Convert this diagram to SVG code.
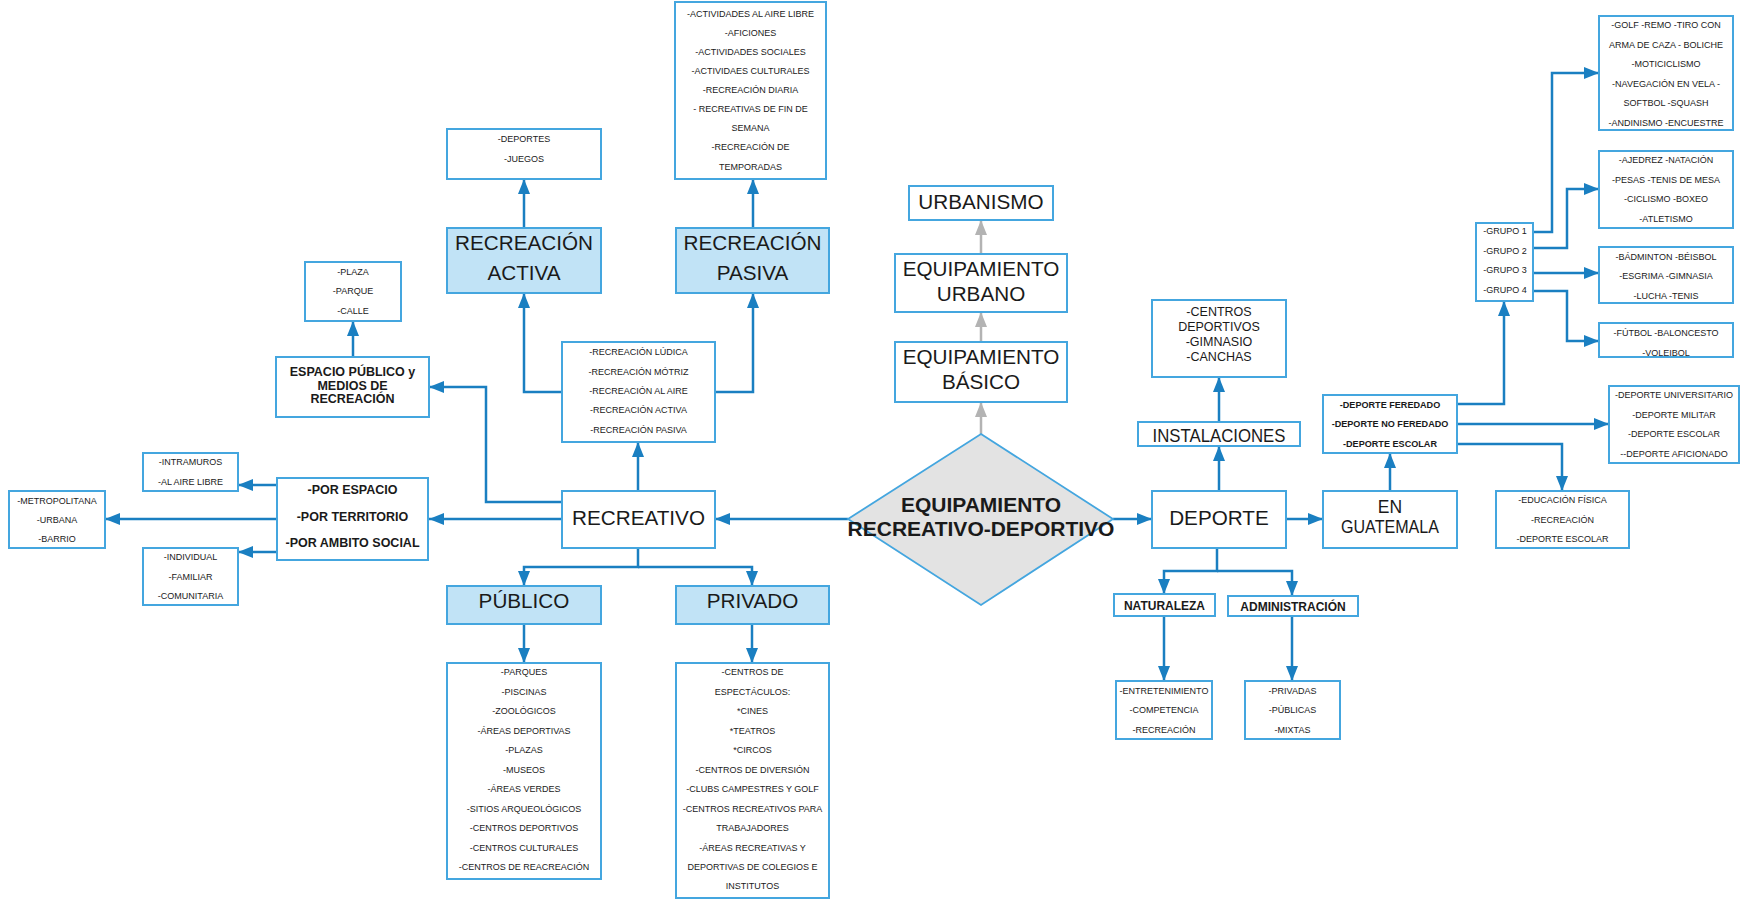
<svg xmlns="http://www.w3.org/2000/svg" width="1740" height="899" viewBox="0 0 1740 899">
<defs>
<style>
.box{fill:#ffffff;stroke:#44a6df;stroke-width:2}
.hl{fill:#c1e3f6}
.dia{fill:#e3e3e3;stroke:#44a6df;stroke-width:1.8}
.c{fill:none;stroke:#1a7fc1;stroke-width:2.5;marker-end:url(#ah)}
.cn{fill:none;stroke:#1a7fc1;stroke-width:2.5}
.g{fill:none;stroke:#b3b3b3;stroke-width:2.5;marker-end:url(#ahg)}
text{font-family:"Liberation Sans",Arial,sans-serif;fill:#1a1a1a;text-anchor:middle}
.s{font-size:9px}
.sb{font-size:9.1px;font-weight:bold}
.m{font-size:12.5px;font-weight:bold}
.L{font-size:20.7px}
.Lb{font-size:21px;font-weight:bold}
</style>
<marker id="ah" markerUnits="userSpaceOnUse" markerWidth="15" markerHeight="12" refX="15" refY="6" orient="auto"><path d="M0,0 L15,6 L0,12 z" fill="#1a7fc1"/></marker>
<marker id="ahg" markerUnits="userSpaceOnUse" markerWidth="15" markerHeight="12" refX="15" refY="6" orient="auto"><path d="M0,0 L15,6 L0,12 z" fill="#b3b3b3"/></marker>
</defs>

<g id="connectors">
<path class="c" d="M848,519 H715"/>
<path class="c" d="M562,519 H429"/>
<path class="c" d="M277,485 H238"/>
<path class="c" d="M277,519 H105"/>
<path class="c" d="M277,552 H238"/>
<path class="c" d="M562,502 H486 V387 H429"/>
<path class="c" d="M353,357 V321"/>
<path class="c" d="M638,491 V442"/>
<path class="c" d="M562,392 H524 V293"/>
<path class="c" d="M715,392 H753 V293"/>
<path class="c" d="M524,228 V179"/>
<path class="c" d="M753,228 V179"/>
<path class="c" d="M638,548 V567 H524 V586"/>
<path class="c" d="M638,567 H752 V586"/>
<path class="c" d="M524,624 V663"/>
<path class="c" d="M752,624 V663"/>
<path class="g" d="M981,434 V402"/>
<path class="g" d="M981,342 V312"/>
<path class="g" d="M981,254 V220"/>
<path class="c" d="M1113,519 H1152"/>
<path class="c" d="M1219,491 V446"/>
<path class="c" d="M1219,422 V377"/>
<path class="c" d="M1286,519 H1323"/>
<path class="c" d="M1390,491 V453"/>
<path class="c" d="M1457,404 H1504 V301"/>
<path class="c" d="M1457,424 H1609"/>
<path class="c" d="M1457,444 H1562 V491"/>
<path class="c" d="M1533,232 H1552 V73 H1599"/>
<path class="c" d="M1533,248 H1567 V189 H1599"/>
<path class="c" d="M1533,273 H1599"/>
<path class="c" d="M1533,291 H1567 V341 H1599"/>
<path class="c" d="M1217,548 V571 H1164 V594"/>
<path class="c" d="M1217,571 H1292 V596"/>
<path class="c" d="M1164,616 V681"/>
<path class="c" d="M1292,616 V681"/>
</g>

<g id="metropolitana"><rect class="box" x="9" y="491" width="96" height="57"/>
<text class="s" x="57" y="504">-METROPOLITANA</text><text class="s" x="57" y="523">-URBANA</text><text class="s" x="57" y="542">-BARRIO</text></g>

<g id="intramuros"><rect class="box" x="143" y="453" width="95" height="38"/>
<text class="s" x="190.5" y="465">-INTRAMUROS</text><text class="s" x="190.5" y="485">-AL AIRE LIBRE</text></g>

<g id="individual"><rect class="box" x="143" y="548" width="95" height="57"/>
<text class="s" x="190.5" y="560">-INDIVIDUAL</text><text class="s" x="190.5" y="580">-FAMILIAR</text><text class="s" x="190.5" y="599">-COMUNITARIA</text></g>

<g id="por-espacio"><rect class="box" x="277" y="478" width="151" height="82"/>
<text class="m" x="352.5" y="494">-POR ESPACIO</text><text class="m" x="352.5" y="521">-POR TERRITORIO</text><text class="m" x="352.5" y="547">-POR AMBITO SOCIAL</text></g>

<g id="plaza"><rect class="box" x="305" y="262" width="96" height="59"/>
<text class="s" x="353" y="275">-PLAZA</text><text class="s" x="353" y="294">-PARQUE</text><text class="s" x="353" y="314">-CALLE</text></g>

<g id="espacio-publico"><rect class="box" x="276" y="357" width="153" height="60"/>
<text class="m" x="352.5" y="376">ESPACIO PÚBLICO y</text><text class="m" x="352.5" y="389.5">MEDIOS DE</text><text class="m" x="352.5" y="403">RECREACIÓN</text></g>

<g id="deportes-juegos"><rect class="box" x="447" y="129" width="154" height="50"/>
<text class="s" x="524" y="142">-DEPORTES</text><text class="s" x="524" y="161.5">-JUEGOS</text></g>

<g id="recreacion-activa"><rect class="box hl" x="447" y="228" width="154" height="65"/>
<text class="L" x="524" y="250">RECREACIÓN</text><text class="L" x="524" y="280">ACTIVA</text></g>

<g id="recreacion-pasiva"><rect class="box hl" x="676" y="228" width="153" height="65"/>
<text class="L" x="752.5" y="250">RECREACIÓN</text><text class="L" x="752.5" y="280">PASIVA</text></g>

<g id="actividades"><rect class="box" x="675" y="2" width="151" height="177"/>
<text class="s" x="750.5" y="17">-ACTIVIDADES AL AIRE LIBRE</text>
<text class="s" x="750.5" y="36">-AFICIONES</text>
<text class="s" x="750.5" y="55">-ACTIVIDADES SOCIALES</text>
<text class="s" x="750.5" y="74">-ACTIVIDAES CULTURALES</text>
<text class="s" x="750.5" y="93">-RECREACIÓN DIARIA</text>
<text class="s" x="750.5" y="112">- RECREATIVAS DE FIN DE</text>
<text class="s" x="750.5" y="131">SEMANA</text>
<text class="s" x="750.5" y="150">-RECREACIÓN DE</text>
<text class="s" x="750.5" y="170">TEMPORADAS</text></g>

<g id="tipos-recreacion"><rect class="box" x="562" y="342" width="153" height="100"/>
<text class="s" x="638.5" y="355">-RECREACIÓN LÚDICA</text>
<text class="s" x="638.5" y="374.5">-RECREACIÓN MÓTRIZ</text>
<text class="s" x="638.5" y="394">-RECREACIÓN AL AIRE</text>
<text class="s" x="638.5" y="413">-RECREACIÓN ACTIVA</text>
<text class="s" x="638.5" y="432.5">-RECREACIÓN PASIVA</text></g>

<g id="recreativo"><rect class="box" x="562" y="491" width="153" height="57"/>
<text class="L" x="638.5" y="525">RECREATIVO</text></g>

<g id="publico"><rect class="box hl" x="447" y="586" width="154" height="38"/>
<text class="L" x="524" y="608">PÚBLICO</text></g>

<g id="privado"><rect class="box hl" x="676" y="586" width="153" height="38"/>
<text class="L" x="752.5" y="608">PRIVADO</text></g>

<g id="publico-lista"><rect class="box" x="447" y="663" width="154" height="216"/>
<text class="s" x="524" y="675">-PARQUES</text>
<text class="s" x="524" y="694.5">-PISCINAS</text>
<text class="s" x="524" y="714">-ZOOLÓGICOS</text>
<text class="s" x="524" y="733.5">-ÁREAS DEPORTIVAS</text>
<text class="s" x="524" y="753">-PLAZAS</text>
<text class="s" x="524" y="772.5">-MUSEOS</text>
<text class="s" x="524" y="792">-ÁREAS VERDES</text>
<text class="s" x="524" y="811.5">-SITIOS ARQUEOLÓGICOS</text>
<text class="s" x="524" y="831">-CENTROS DEPORTIVOS</text>
<text class="s" x="524" y="850.5">-CENTROS CULTURALES</text>
<text class="s" x="524" y="870">-CENTROS DE REACREACIÓN</text></g>

<g id="privado-lista"><rect class="box" x="676" y="663" width="153" height="235"/>
<text class="s" x="752.5" y="675">-CENTROS DE</text>
<text class="s" x="752.5" y="694.5">ESPECTÁCULOS:</text>
<text class="s" x="752.5" y="714">*CINES</text>
<text class="s" x="752.5" y="733.5">*TEATROS</text>
<text class="s" x="752.5" y="753">*CIRCOS</text>
<text class="s" x="752.5" y="772.5">-CENTROS DE DIVERSIÓN</text>
<text class="s" x="752.5" y="792">-CLUBS CAMPESTRES Y GOLF</text>
<text class="s" x="752.5" y="811.5">-CENTROS RECREATIVOS PARA</text>
<text class="s" x="752.5" y="831">TRABAJADORES</text>
<text class="s" x="752.5" y="850.5">-ÁREAS RECREATIVAS Y</text>
<text class="s" x="752.5" y="870">DEPORTIVAS DE COLEGIOS E</text>
<text class="s" x="752.5" y="889">INSTITUTOS</text></g>

<g id="equipamiento"><polygon class="dia" points="981,434 1113,519 981,605 848,519"/>
<text class="Lb" x="981" y="512">EQUIPAMIENTO</text><text class="Lb" x="981" y="536">RECREATIVO-DEPORTIVO</text></g>

<g id="urbanismo"><rect class="box" x="909" y="186" width="144" height="34"/>
<text class="L" x="981" y="209">URBANISMO</text></g>

<g id="equipamiento-urbano"><rect class="box" x="895" y="254" width="172" height="58"/>
<text class="L" x="981" y="276">EQUIPAMIENTO</text><text class="L" x="981" y="301">URBANO</text></g>

<g id="equipamiento-basico"><rect class="box" x="895" y="342" width="172" height="60"/>
<text class="L" x="981" y="364">EQUIPAMIENTO</text><text class="L" x="981" y="389">BÁSICO</text></g>

<g id="deporte"><rect class="box" x="1152" y="491" width="134" height="57"/>
<text class="L" x="1219" y="525">DEPORTE</text></g>

<g id="instalaciones"><rect class="box" x="1138" y="422" width="162" height="24"/>
<text x="1219" y="441.5" font-size="18" textLength="133" lengthAdjust="spacingAndGlyphs">INSTALACIONES</text></g>

<g id="centros"><rect class="box" x="1152" y="300" width="134" height="77"/>
<text x="1219" y="316" font-size="12.5">-CENTROS</text>
<text x="1219" y="331" font-size="12.5">DEPORTIVOS</text>
<text x="1219" y="346" font-size="12.5">-GIMNASIO</text>
<text x="1219" y="361" font-size="12.5">-CANCHAS</text></g>

<g id="guatemala"><rect class="box" x="1323" y="491" width="134" height="57"/>
<text x="1390" y="513" font-size="17.5">EN</text><text x="1390" y="533" font-size="17.5" textLength="98" lengthAdjust="spacingAndGlyphs">GUATEMALA</text></g>

<g id="feredado"><rect class="box" x="1323" y="395" width="134" height="58"/>
<text class="sb" x="1390" y="408">-DEPORTE FEREDADO</text>
<text class="sb" x="1390" y="427">-DEPORTE NO FEREDADO</text>
<text class="sb" x="1390" y="446.5">-DEPORTE ESCOLAR</text></g>

<g id="universitario"><rect class="box" x="1609" y="386" width="130" height="77"/>
<text class="s" x="1674" y="398">-DEPORTE UNIVERSITARIO</text>
<text class="s" x="1674" y="417.5">-DEPORTE MILITAR</text>
<text class="s" x="1674" y="437">-DEPORTE ESCOLAR</text>
<text class="s" x="1674" y="456.5">--DEPORTE AFICIONADO</text></g>

<g id="educacion"><rect class="box" x="1496" y="491" width="133" height="57"/>
<text class="s" x="1562.5" y="503">-EDUCACIÓN FÍSICA</text>
<text class="s" x="1562.5" y="522.5">-RECREACIÓN</text>
<text class="s" x="1562.5" y="542">-DEPORTE ESCOLAR</text></g>

<g id="grupos"><rect class="box" x="1476" y="223" width="57" height="78"/>
<text class="s" x="1505" y="234">-GRUPO 1</text>
<text class="s" x="1505" y="254">-GRUPO 2</text>
<text class="s" x="1505" y="273">-GRUPO 3</text>
<text class="s" x="1505" y="293">-GRUPO 4</text></g>

<g id="grupo1"><rect class="box" x="1599" y="16" width="134" height="114"/>
<text class="s" x="1666" y="28">-GOLF -REMO -TIRO CON</text>
<text class="s" x="1666" y="47.5">ARMA DE CAZA - BOLICHE</text>
<text class="s" x="1666" y="67">-MOTICICLISMO</text>
<text class="s" x="1666" y="86.5">-NAVEGACIÓN EN VELA -</text>
<text class="s" x="1666" y="106">SOFTBOL -SQUASH</text>
<text class="s" x="1666" y="125.5">-ANDINISMO -ENCUESTRE</text></g>

<g id="grupo2"><rect class="box" x="1599" y="151" width="134" height="77"/>
<text class="s" x="1666" y="163">-AJEDREZ -NATACIÓN</text>
<text class="s" x="1666" y="182.5">-PESAS -TENIS DE MESA</text>
<text class="s" x="1666" y="202">-CICLISMO -BOXEO</text>
<text class="s" x="1666" y="221.5">-ATLETISMO</text></g>

<g id="grupo3"><rect class="box" x="1599" y="247" width="134" height="56"/>
<text class="s" x="1666" y="260">-BÁDMINTON -BÉISBOL</text>
<text class="s" x="1666" y="279">-ESGRIMA -GIMNASIA</text>
<text class="s" x="1666" y="298.5">-LUCHA -TENIS</text></g>

<g id="grupo4"><rect class="box" x="1599" y="323" width="134" height="34"/>
<text class="s" x="1666" y="336">-FÚTBOL -BALONCESTO</text>
<text class="s" x="1666" y="355.5">-VOLEIBOL</text></g>

<g id="naturaleza"><rect class="box" x="1114" y="594" width="101" height="22"/>
<text x="1164.5" y="609.5" font-size="12" font-weight="bold">NATURALEZA</text></g>

<g id="administracion"><rect class="box" x="1228" y="596" width="130" height="20"/>
<text x="1293" y="611" font-size="12" font-weight="bold">ADMINISTRACIÓN</text></g>

<g id="entretenimiento"><rect class="box" x="1116" y="681" width="96" height="58"/>
<text class="s" x="1164" y="694">-ENTRETENIMIENTO</text>
<text class="s" x="1164" y="713">-COMPETENCIA</text>
<text class="s" x="1164" y="733">-RECREACIÓN</text></g>

<g id="privadas"><rect class="box" x="1245" y="681" width="95" height="58"/>
<text class="s" x="1292.5" y="694">-PRIVADAS</text>
<text class="s" x="1292.5" y="713">-PÚBLICAS</text>
<text class="s" x="1292.5" y="733">-MIXTAS</text></g>
</svg>
